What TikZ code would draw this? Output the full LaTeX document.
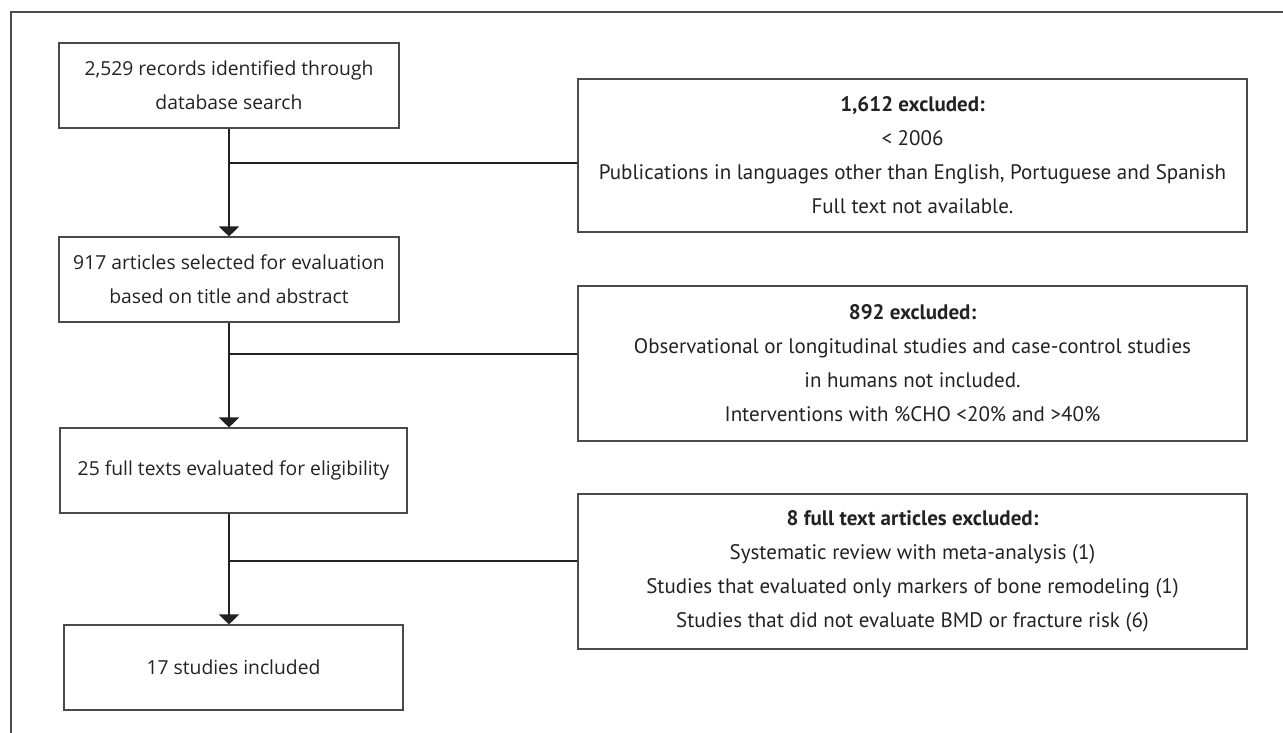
\documentclass[tikz,border=0pt]{standalone}
\usepackage{fontspec}
\setmainfont{PT Sans}
\newfontfamily\stagefont{Open Sans}
\usepackage{xcolor}
\usetikzlibrary{arrows.meta, positioning, calc}
\definecolor{boxline}{HTML}{4A4A4A}
\definecolor{inktext}{HTML}{222222}

\begin{document}
\begin{tikzpicture}[x=1pt, y=-1pt,
  every node/.style={font=\fontsize{21}{34}\selectfont, text=inktext},
  stage/.style={draw=boxline, line width=1.1pt, align=center, inner sep=0pt,
    font=\stagefont\fontsize{19.3}{34}\selectfont},
  note/.style={draw=boxline, line width=1.1pt, align=center, inner sep=0pt,
    minimum width=669pt, minimum height=155pt},
  flow/.style={draw=inktext, line width=1.8pt},
  arrow/.style={flow, -{Triangle[width=20pt, length=10pt]}}]
  \useasboundingbox (0,0) rectangle (1283,733);
  % frame
  \draw[boxline, line width=1.4pt] (11,733) -- (11,12) -- (1283,12);

  % main column
  \node[stage, minimum width=340pt, minimum height=85pt] (rec) at (229,85.5) {2,529 records identified through\\database search};
  \node[stage, minimum width=340pt, minimum height=85pt] (sel) at (229,279.5) {917 articles selected for evaluation\\based on title and abstract};
  \node[stage, minimum width=347pt, minimum height=85pt] (full) at (233.5,470.5) {25 full texts evaluated for eligibility};
  \node[stage, minimum width=339pt, minimum height=85pt] (inc) at (233.5,667.5) {17 studies included};

  % exclusions
  \node[note, minimum height=153pt] (ex1) at (912.5,155.5) {\textbf{1,612 excluded:}\\< 2006\\Publications in languages other than English, Portuguese and Spanish\\Full text not available.};
  \node[note] (ex2) at (912.5,363.5) {\textbf{892 excluded:}\\Observational or longitudinal studies and case-control studies\\in humans not included.\\Interventions with \%CHO <20\% and >40\%};
  \node[note] (ex3) at (912.5,571.5) {\textbf{8 full text articles excluded:}\\Systematic review with meta-analysis (1)\\Studies that evaluated only markers of bone remodeling (1)\\Studies that did not evaluate BMD or fracture risk (6)};

  \coordinate (spine) at (229,0);
  \coordinate (j1) at (229,163);
  \coordinate (j2) at (229,354);
  \coordinate (j3) at (229,561);

  \draw[arrow] (rec.south -| spine) -- (sel.north -| spine);
  \draw[arrow] (sel.south -| spine) -- (full.north -| spine);
  \draw[arrow] (full.south -| spine) -- (inc.north -| spine);
  \draw[flow] (j1) -- (j1 -| ex1.west);
  \draw[flow] (j2) -- (j2 -| ex2.west);
  \draw[flow] (j3) -- (j3 -| ex3.west);
\end{tikzpicture}
\end{document}
